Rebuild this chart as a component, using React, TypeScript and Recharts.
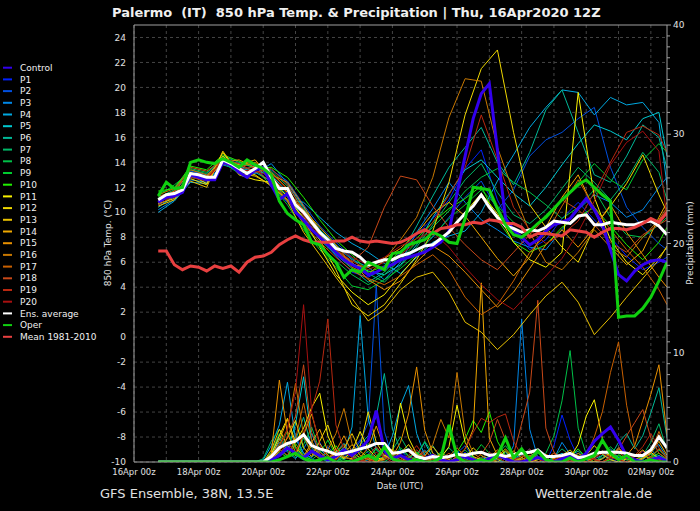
import React from 'react';
import { LineChart, Line, XAxis, YAxis, CartesianGrid, ReferenceLine } from 'recharts';

// time grid (hours after 16Apr 00z)
const HOURS_6H = Array.from({ length: 64 }, (_, i) => 18 + 6 * i);
const HOURS_12H = [...Array.from({ length: 32 }, (_, k) => 18 + 12 * k), 396];
const HOURS_PRECIP = HOURS_6H.slice(12);

const DATE_LABELS = ['16Apr 00z', '18Apr 00z', '20Apr 00z', '22Apr 00z', '24Apr 00z', '26Apr 00z', '28Apr 00z', '30Apr 00z', '02May 00z'];
const DAY_TICKS = [0, 24, 48, 72, 96, 120, 144, 168, 192, 216, 240, 264, 288, 312, 336, 360, 384];
const TEMP_TICKS = [-10, -8, -6, -4, -2, 0, 2, 4, 6, 8, 10, 12, 14, 16, 18, 20, 22, 24];
const PRECIP_TICKS = [0, 1, 2, 3, 4, 5, 6, 7, 8, 9, 10, 11, 12, 13, 14, 15, 16, 17, 18, 19, 20, 21, 22, 23, 24, 25, 26, 27, 28, 29, 30, 31, 32, 33, 34, 35, 36, 37, 38, 39, 40];

// 6-hourly main series
const ENS_T = [11.0, 11.4, 11.5, 11.8, 13.1, 13.0, 12.8, 12.8, 14.2, 13.9, 13.5, 13.1, 13.5, 14.0, 12.8, 11.9, 11.9, 10.6, 10.0, 9.2,
  8.4, 7.8, 7.1, 6.9, 6.8, 6.4, 5.8, 6.0, 6.2, 6.2, 6.5, 6.7, 7.0, 7.3, 7.4, 7.9, 8.4, 9.2, 9.9, 10.5, 11.4, 10.4, 9.6, 8.9, 8.7,
  8.4, 8.6, 8.5, 8.8, 9.3, 9.2, 9.1, 9.7, 9.8, 9.0, 9.0, 9.2, 9.1, 9.0, 9.0, 9.2, 9.3, 8.9, 8.2];
const MEAN_T = [6.9, 6.9, 5.8, 5.4, 5.7, 5.6, 5.3, 5.7, 5.5, 5.7, 5.2, 6.0, 6.4, 6.5, 6.8, 7.4, 7.8, 8.1, 7.8, 7.6, 7.6, 7.6,
  7.7, 7.7, 8.0, 7.7, 7.6, 7.7, 7.6, 7.5, 7.6, 7.9, 8.3, 8.6, 8.3, 8.7, 8.8, 9.0, 9.0, 9.2, 9.1, 9.4, 9.3, 9.1, 9.1,
  8.8, 8.0, 8.3, 8.3, 8.2, 8.1, 8.6, 8.5, 8.4, 8.0, 8.4, 8.7, 8.7, 8.6, 8.8, 9.1, 9.5, 9.2, 10.0];
const OPER_T = [11.3, 12.4, 11.9, 12.0, 14.0, 14.2, 14.0, 13.9, 14.3, 14.0, 13.6, 14.2, 13.8, 13.5, 13.0, 10.9, 9.9, 9.4, 9.0, 7.6, 7.4, 6.6,
  6.0, 4.8, 5.4, 5.2, 6.0, 5.7, 5.4, 6.7, 6.8, 7.4, 7.6, 7.8, 8.4, 8.1, 7.6, 7.5, 9.5, 12.0, 11.9, 11.8, 10.3, 9.0,
  8.2, 8.0, 8.5, 9.1, 9.6, 10.3, 11.0, 11.6, 12.2, 12.6, 12.0, 11.4, 10.9, 1.6, 1.7, 1.7, 2.3, 3.2, 4.5, 6.0];
const CONTROL_T = [10.8, 11.2, 11.3, 11.6, 13.0, 12.8, 12.6, 12.6, 14.0, 13.8, 13.2, 12.8, 13.4, 13.6, 12.2, 11.0, 11.5, 10.0, 9.4, 8.6,
  8.0, 7.4, 6.8, 6.2, 5.8, 5.5, 5.0, 5.2, 5.6, 5.8, 6.2, 6.4, 6.6, 6.8, 7.2, 7.6, 8.5, 11.5, 14.5, 17.5, 19.5, 20.3, 15.0, 9.5,
  8.6, 8.0, 7.4, 7.8, 8.5, 9.0, 9.2, 9.5, 10.3, 11.1, 10.2, 9.0, 7.0, 5.0, 4.5, 5.3, 5.8, 6.1, 6.2, 6.0];

const ENS_P = [0, 0, 0, 0, 0, 0, 0, 0, 0, 0, 0, 0, 0,
  0, 0.5, 1.3, 1.7, 1.9, 2.5, 1.5, 1.2, 1.0, 0.7, 0.8, 1.0, 1.2, 1.4, 1.7, 1.7, 0.8, 0.9, 1.1, 0.5, 0.3, 0.5, 0.4, 0.5, 0.7,
  0.6, 0.8, 0.9, 0.6, 0.7, 0.5, 0.7, 0.8, 0.9, 1.1, 0.5, 0.5, 0.6, 0.8, 0.4, 0.5, 0.8, 0.9, 0.9, 0.9, 0.8, 0.6, 0.6, 1.1, 2.3, 1.3];
const OPER_P = [0, 0, 0, 0, 0, 0, 0, 0, 0, 0, 0, 0, 0,
  0, 0, 0.2, 0.5, 0.8, 0.3, 0, 0.2, 0.4, 0, 0,
  0, 0.3, 0.6, 0.2, 1.4, 0.3, 0, 0, 0.2, 0, 0, 0.4,
  3.4, 0.5, 0, 0, 0.2, 0, 0.6, 2.2, 0.4, 1.2, 0.2, 1.0,
  0.2, 0, 0, 0.4, 0, 0.3, 0.6, 2.0, 0.8, 0.2, 0.6, 0,
  0, 0.2, 0, 0];
const CONTROL_P = [0, 0, 0, 0, 0, 0, 0, 0, 0, 0, 0, 0, 0,
  0, 0.2, 0.6, 1.3, 0.8, 0.4, 1.0, 0.6, 0.2, 0.5, 1.1,
  0.6, 1.2, 2.0, 4.7, 1.0, 0.3, 0.6, 0.2, 0, 0.3, 0.6, 0.2,
  0, 0.2, 0.5, 0.2, 0, 0.3, 0.7, 0.3, 0, 0, 0.2, 0.4,
  0.2, 0, 0.3, 0.6, 0.2, 0.8, 1.9, 2.6, 3.2, 2.0, 0.5, 0.2,
  0, 0.2, 0.4, 0.1];

// 12-hourly member temperatures
const P1_T = [10.6, 11.2, 12.9, 12.5, 14.0, 13.2, 13.8, 12.0, 10.8, 9.2, 8.0, 6.5, 5.2, 4.8, 5.5, 6.8, 8.2, 9.5, 11.0, 13.5, 15.0, 11.0, 8.5, 7.0, 7.8, 9.5, 10.8, 9.4, 8.0, 6.5, 5.4, 6.0, 6.4];
const P2_T = [10.9, 11.6, 13.3, 13.0, 14.3, 13.9, 13.6, 13.4, 12.5, 10.6, 8.9, 7.6, 6.4, 4.9, 5.6, 6.2, 6.9, 8.0, 9.6, 11.2, 12.5, 10.2, 11.8, 14.5, 15.8, 16.4, 17.5, 18.4, 13.6, 10.4, 8.8, 7.5, 7.0];
const P3_T = [10.2, 11.0, 12.6, 12.4, 13.8, 13.4, 13.1, 13.9, 12.3, 10.4, 8.6, 7.3, 6.2, 5.6, 4.6, 6.0, 8.4, 10.3, 12.4, 10.8, 9.4, 8.6, 7.7, 7.2, 7.0, 8.6, 10.2, 11.4, 10.8, 9.6, 10.2, 12.0, 12.8];
const P4_T = [10.0, 10.9, 12.4, 12.3, 13.9, 13.6, 13.2, 12.5, 11.0, 10.8, 9.6, 8.4, 7.5, 6.8, 5.9, 5.1, 6.4, 7.6, 8.1, 8.5, 10.0, 12.5, 14.6, 16.8, 18.4, 19.8, 19.6, 17.8, 19.2, 18.6, 18.8, 17.2, 12.2];
const P5_T = [10.4, 11.3, 12.8, 12.6, 14.1, 13.7, 13.3, 13.0, 11.6, 9.8, 8.2, 6.9, 5.9, 5.3, 5.0, 5.8, 7.4, 9.6, 11.5, 13.4, 14.2, 12.8, 11.5, 10.5, 12.0, 13.8, 15.5, 17.0, 16.5, 15.8, 17.5, 18.0, 14.5];
const P6_T = [10.8, 11.5, 13.0, 12.9, 14.4, 13.3, 13.7, 12.6, 11.4, 9.5, 7.8, 6.6, 5.5, 4.4, 5.2, 6.6, 8.9, 11.3, 13.6, 15.2, 16.8, 14.0, 12.2, 14.8, 18.2, 19.8, 16.4, 13.0, 12.4, 14.5, 17.0, 16.0, 13.5];
const P7_T = [11.2, 11.8, 13.4, 13.1, 14.5, 14.0, 13.8, 13.3, 12.1, 10.3, 8.6, 7.4, 6.3, 5.1, 4.4, 5.7, 7.2, 9.0, 10.8, 12.6, 13.9, 11.6, 9.8, 9.1, 10.2, 11.9, 13.6, 12.4, 11.0, 12.6, 14.8, 13.2, 11.0];
const P8_T = [11.5, 12.0, 13.5, 13.2, 14.2, 13.8, 13.9, 12.8, 11.2, 9.0, 7.4, 6.1, 5.0, 4.2, 5.0, 6.2, 7.6, 8.8, 10.1, 11.7, 12.8, 13.5, 12.4, 11.6, 10.6, 9.5, 10.4, 11.8, 9.6, 8.2, 8.0, 9.0, 9.6];
const P9_T = [11.3, 12.2, 13.2, 12.7, 14.0, 13.1, 13.4, 12.2, 10.6, 8.6, 7.0, 5.6, 4.1, 3.8, 4.6, 5.5, 6.6, 8.1, 9.5, 10.6, 11.8, 10.5, 9.2, 8.4, 9.8, 10.9, 12.4, 13.9, 12.6, 11.8, 14.2, 15.5, 14.8];
const P10_T = [11.7, 11.9, 13.7, 13.4, 14.6, 14.1, 13.5, 13.6, 12.8, 11.2, 9.4, 7.8, 6.6, 5.2, 5.7, 6.9, 7.9, 9.2, 10.3, 11.1, 12.1, 9.4, 7.6, 6.8, 7.4, 8.8, 9.6, 10.4, 8.9, 7.4, 6.2, 7.6, 8.8];
const P11_T = [11.0, 11.4, 13.0, 12.3, 14.8, 13.0, 12.6, 12.4, 11.3, 9.4, 7.2, 5.0, 3.6, 2.6, 3.4, 5.0, 6.5, 7.2, 8.4, 10.0, 11.5, 9.9, 7.6, 6.2, 5.6, 6.8, 19.6, 11.2, 7.8, 6.0, 5.0, 6.4, 7.2];
const P12_T = [10.7, 11.1, 12.7, 12.2, 14.5, 13.4, 13.0, 12.1, 11.0, 9.6, 7.8, 5.4, 2.6, 1.7, 2.6, 4.3, 6.2, 8.5, 12.4, 17.8, 21.5, 23.0, 16.4, 10.6, 8.8, 7.2, 6.0, 8.8, 10.5, 12.3, 14.6, 11.4, 10.0];
const P13_T = [10.5, 11.0, 12.5, 12.0, 14.9, 13.1, 12.9, 12.2, 10.9, 8.4, 6.6, 4.8, 3.1, 1.3, 2.2, 3.8, 4.8, 5.2, 3.6, 1.2, 0.4, -1.0, 0.2, 1.8, 3.3, 4.4, 2.8, 0.2, 1.6, 3.2, 4.7, 6.2, 7.3];
const P14_T = [10.9, 11.5, 12.9, 12.9, 14.3, 13.8, 14.2, 12.7, 11.6, 10.2, 8.8, 7.4, 5.8, 5.6, 6.3, 7.1, 8.3, 9.9, 10.8, 9.7, 8.0, 6.3, 4.9, 6.4, 8.8, 11.2, 13.0, 10.2, 7.2, 5.8, 6.9, 9.6, 10.8];
const P15_T = [11.1, 11.7, 13.2, 12.6, 14.0, 14.2, 13.6, 13.0, 12.4, 10.5, 8.5, 7.0, 6.0, 4.6, 3.8, 4.5, 6.0, 7.3, 6.5, 5.2, 3.8, 2.4, 3.6, 5.5, 7.4, 8.6, 7.2, 8.8, 10.6, 8.4, 6.6, 4.8, 4.0];
const P16_T = [11.4, 11.9, 13.4, 13.0, 13.9, 13.6, 14.0, 13.2, 11.9, 9.9, 8.2, 6.7, 5.6, 5.0, 6.2, 7.8, 9.6, 12.8, 17.6, 20.7, 20.5, 15.2, 11.6, 8.4, 6.0, 5.4, 6.8, 8.6, 7.2, 6.4, 8.0, 9.4, 10.4];
const P17_T = [10.6, 11.3, 13.1, 12.8, 14.1, 13.3, 13.4, 12.4, 11.0, 9.1, 7.6, 6.4, 5.3, 4.7, 4.2, 4.9, 5.8, 6.6, 5.4, 3.2, 1.8, 2.6, 4.5, 6.8, 8.2, 10.5, 12.6, 10.4, 8.6, 7.0, 5.6, 3.8, 2.6];
const P18_T = [11.3, 11.6, 13.6, 13.3, 14.2, 13.9, 13.2, 13.5, 12.2, 10.1, 8.1, 6.8, 6.0, 7.2, 10.4, 12.9, 12.6, 10.5, 8.8, 7.4, 6.2, 5.4, 6.8, 8.2, 9.6, 11.0, 10.2, 9.0, 7.6, 6.8, 8.2, 9.0, 9.4];
const P19_T = [10.8, 11.4, 12.8, 12.5, 14.4, 13.5, 13.6, 13.1, 11.8, 9.7, 8.0, 7.0, 6.1, 5.4, 6.0, 6.6, 7.6, 9.2, 11.4, 13.6, 17.8, 14.2, 10.4, 8.6, 7.5, 8.2, 9.3, 11.6, 14.0, 16.4, 16.9, 16.2, 14.8];
const P20_T = [11.0, 11.2, 13.0, 12.7, 14.1, 13.4, 13.3, 12.9, 11.5, 9.8, 8.3, 7.2, 6.4, 5.8, 6.4, 7.3, 7.9, 8.4, 7.2, 5.6, 4.2, 3.0, 2.2, 3.6, 4.9, 6.3, 8.4, 10.9, 13.8, 15.6, 16.5, 14.9, 9.4];

// 6-hourly member precipitation from 19Apr 18z
const P1_P = [0, 0, 0.3, 0.8, 1.5, 0.6, 0.2, 0.9, 1.8, 0.4, 0, 0.5, 1.2, 2.0, 0.8, 0.3, 0, 0.6, 1.1, 0.2, 0, 0, 0.4, 0, 0, 0.3, 0.9, 0.2, 0, 0, 0.5, 0.2, 0, 0, 0.4, 0, 0, 1.5, 4.3, 2.0, 0.4, 0, 0, 0.6, 0.3, 0, 0, 0.5, 1.0, 0.4, 0, 0];
const P2_P = [0, 0, 0.2, 0.5, 1.1, 2.4, 0.8, 0.3, 0, 1.4, 0.6, 0.2, 0.8, 1.9, 3.6, 16.2, 2.8, 0.4, 0, 0.3, 0.9, 0.2, 0, 0, 0.2, 0.8, 1.5, 0.4, 0, 0, 0.3, 0, 0, 0.6, 1.2, 0.3, 0, 0, 0.2, 0.9, 0.3, 0, 0.4, 1.0, 0.2, 0, 0, 0, 0.3, 0.8, 0.2, 0];
const P3_P = [0, 0, 0.6, 1.8, 0.9, 0.3, 1.2, 2.6, 0.7, 0, 0.3, 1.0, 0.4, 0, 0.2, 1.3, 0.6, 0.2, 0, 0, 0.5, 1.1, 0.3, 0, 0, 0.4, 0.2, 0, 0.3, 0.8, 0.2, 0, 1.5, 13.1, 3.0, 0.4, 0, 0.3, 1.8, 0.7, 0.2, 0, 0, 0.3, 0.9, 0.4, 0, 0, 0.5, 1.2, 0.3, 0.2];
const P4_P = [0, 0.2, 1.5, 3.4, 7.3, 2.1, 0.8, 0.4, 1.2, 0.5, 0, 0.8, 3.2, 13.4, 4.0, 1.1, 0.5, 2.4, 5.2, 7.0, 2.6, 0.6, 0.2, 0, 0.4, 1.0, 0.3, 0, 0.2, 0.5, 0, 0, 0.3, 0.7, 0.2, 0, 0, 0.4, 0.8, 0.2, 0, 0, 0.3, 0.6, 1.2, 0.4, 0, 0, 0.2, 0.9, 1.6, 0.4];
const P5_P = [0, 0, 0.8, 2.2, 1.0, 3.5, 7.8, 1.9, 0.6, 0.2, 0.9, 1.7, 0.5, 0.2, 0, 0.4, 1.3, 0.5, 0.2, 0, 0.6, 1.8, 0.4, 0, 0, 0.2, 0.7, 0.3, 0, 0, 0.4, 0.9, 0.2, 0, 0.5, 1.1, 0.4, 0, 0, 0.3, 0.8, 0.2, 0, 0, 0.4, 1.3, 0.5, 0, 0, 0.3, 0.6, 0.2];
const P6_P = [0, 0, 0.4, 1.2, 0.5, 2.0, 4.1, 1.3, 0.4, 0, 0.6, 1.4, 0.7, 1.6, 2.4, 4.2, 8.1, 3.0, 1.1, 0.5, 0.2, 0.8, 1.5, 0.3, 0, 0.2, 0.8, 0.4, 0, 0.3, 0.6, 0.2, 0, 0, 0.4, 0.9, 0.3, 0, 0.2, 0.6, 1.0, 0.4, 0, 0, 0.5, 1.8, 2.6, 1.2, 2.4, 4.5, 6.8, 2.2];
const P7_P = [0, 0.3, 1.9, 3.0, 1.4, 0.6, 2.2, 0.8, 0.3, 1.0, 0.4, 0, 0.2, 0.9, 1.7, 0.6, 0.3, 1.1, 2.3, 1.0, 0.4, 0, 0.2, 0.5, 1.3, 0.6, 0.2, 0, 0.4, 0.8, 0.3, 0, 0.2, 0.6, 0.3, 0, 0, 0.5, 1.2, 0.6, 0.3, 0, 0, 0.4, 0.9, 0.5, 0.2, 0, 0.6, 1.8, 3.5, 1.0];
const P8_P = [0, 0, 0.9, 2.6, 1.1, 0.4, 1.6, 3.2, 1.0, 0.3, 0, 0.4, 0.9, 0.3, 0, 0.5, 1.4, 0.7, 0.2, 0, 0.6, 1.9, 0.8, 0.3, 0, 0.5, 1.1, 0.4, 0, 0.2, 0.7, 1.5, 0.5, 0, 0, 0.3, 0.8, 2.4, 5.6, 10.2, 3.1, 0.7, 0.2, 0, 0.4, 0.9, 0.3, 0, 0, 0.5, 1.1, 0.4];
const P9_P = [0, 0, 0.5, 1.4, 2.8, 1.2, 0.5, 0.2, 0.8, 2.0, 0.6, 0.2, 0, 0.4, 1.0, 0.3, 0, 0.5, 1.3, 0.6, 0.2, 0, 0.3, 0.9, 0.4, 0, 0.2, 0.6, 1.6, 0.8, 0.3, 0, 0, 0.4, 1.1, 0.5, 0.2, 0, 0.3, 0.8, 0.4, 0, 0, 0.6, 1.4, 0.7, 0.2, 0, 0.3, 0.7, 0.4, 0.2];
const P10_P = [0, 0, 0.3, 0.9, 0.4, 1.7, 0.6, 0.2, 0, 0.7, 1.5, 0.5, 0.2, 0, 0.3, 1.2, 0.5, 0.2, 0, 0.4, 0.9, 0.3, 0, 0, 0.3, 0.9, 2.1, 3.8, 2.7, 4.6, 1.9, 0.6, 0.2, 0, 0.3, 0.8, 0.4, 0, 0, 0.5, 1.2, 0.4, 0, 0, 0.2, 0.6, 0.3, 0, 0, 0.4, 0.8, 0.2];
const P11_P = [0, 0, 0.7, 2.4, 4.0, 1.8, 3.1, 5.0, 6.3, 2.4, 0.8, 0.3, 1.0, 2.8, 1.2, 0.4, 0.2, 0.9, 5.4, 2.2, 0.7, 0.3, 0, 0.4, 1.4, 5.2, 1.8, 0.5, 0.2, 0, 0.4, 1.0, 0.3, 0, 0, 0.2, 0.6, 0.3, 0, 0.4, 1.6, 4.2, 5.7, 2.1, 0.6, 0.2, 0, 0, 0.4, 0.9, 0.3, 0];
const P12_P = [0, 0, 0.2, 1.0, 2.2, 3.8, 1.3, 0.5, 1.9, 3.4, 1.1, 0.4, 0.3, 1.4, 4.6, 1.8, 0.6, 0.2, 0.8, 1.6, 0.5, 0, 0.3, 0.7, 0.2, 0, 0.4, 1.3, 0.6, 0.2, 0, 0.5, 1.0, 0.4, 0, 0, 0.3, 0.8, 0.3, 0, 0.2, 0.6, 1.5, 0.7, 0.2, 0, 0.3, 0.5, 1.1, 0.4, 0.2, 0];
const P13_P = [0, 0, 1.1, 3.0, 1.5, 0.6, 2.5, 4.4, 1.7, 0.6, 0.2, 1.3, 2.6, 1.0, 0.4, 0, 0.5, 1.2, 0.4, 0, 0.2, 0.6, 1.4, 0.5, 0, 0.3, 0.8, 0.2, 0, 0, 0.5, 1.2, 0.4, 0.2, 0.6, 0.3, 0, 0.2, 0.6, 1.1, 0.4, 0, 0, 0.3, 0.8, 0.3, 0, 0.2, 0.6, 0.3, 0, 0.2];
const P14_P = [0, 0, 0.6, 2.0, 3.9, 1.4, 0.5, 1.8, 3.0, 1.0, 0.3, 0.8, 1.6, 0.6, 0.2, 0, 0.4, 1.0, 0.5, 0.2, 0, 0.3, 0.7, 0.2, 0, 0.5, 1.2, 3.0, 16.4, 2.2, 0.6, 0.2, 0, 0.4, 0.9, 0.3, 0, 0, 0.3, 0.7, 0.2, 0, 0.4, 1.0, 0.5, 0.2, 0, 0, 0.3, 0.8, 1.9, 0.6];
const P15_P = [0, 0, 0.8, 7.5, 2.6, 0.9, 0.4, 1.5, 0.6, 0.2, 1.0, 2.4, 0.9, 0.4, 1.3, 3.3, 1.2, 0.5, 1.8, 4.4, 8.7, 2.9, 0.8, 0.3, 0, 0.2, 0.6, 0.3, 0, 0.4, 1.1, 0.5, 0.2, 0, 0, 0.3, 0.7, 0.3, 0, 0.2, 0.6, 0.3, 0, 0, 0.4, 1.2, 0.6, 1.5, 3.8, 6.2, 8.9, 2.5];
const P16_P = [0, 0, 0.5, 1.6, 3.0, 7.2, 2.4, 0.8, 0.3, 1.1, 2.6, 4.9, 1.7, 0.6, 0.3, 0, 0.2, 0.8, 0.4, 0.2, 0, 0.5, 1.6, 3.9, 2.2, 8.2, 2.6, 0.8, 0.3, 0, 0.2, 0.6, 0.3, 0, 0.4, 0.9, 0.4, 0, 0, 0.3, 0.8, 0.4, 0.2, 0, 0.5, 1.3, 0.6, 0.2, 0, 0.5, 1.2, 0.4];
const P17_P = [0, 0, 0.4, 1.2, 0.6, 2.1, 5.4, 1.9, 0.7, 0.2, 0.8, 1.6, 0.6, 0.2, 0, 0.5, 1.3, 0.6, 0.2, 0, 0.4, 1.0, 0.3, 0, 0.5, 1.3, 0.5, 0.2, 0, 0.3, 0.9, 0.4, 0, 0.2, 0.6, 0.3, 0, 0.2, 0.5, 0.2, 0, 0.6, 2.3, 4.6, 8.2, 11.0, 5.2, 1.4, 0.5, 0.9, 2.8, 1.0];
const P18_P = [0, 0, 0.3, 1.0, 2.3, 4.2, 8.9, 2.7, 0.9, 0.3, 1.2, 0.5, 0.2, 0, 0.6, 1.4, 0.5, 0.2, 0, 0.4, 1.1, 0.4, 0, 0.3, 0.8, 0.3, 0, 0.2, 0.7, 1.8, 3.9, 2.0, 0.7, 3.5, 6.4, 14.8, 3.1, 0.9, 0.3, 0, 0.2, 0.6, 0.3, 0, 0.4, 1.1, 2.4, 3.6, 4.8, 2.2, 0.8, 0.3];
const P19_P = [0, 0, 0.2, 0.7, 1.8, 0.8, 2.6, 4.8, 7.4, 13.1, 3.4, 1.1, 0.4, 0, 0.3, 0.9, 0.4, 0, 0.2, 0.6, 1.5, 0.5, 0.2, 0, 0, 0.4, 1.2, 2.7, 4.0, 3.6, 4.1, 4.4, 1.9, 0.6, 0.2, 0, 0.3, 0.8, 0.3, 0, 0.2, 0.5, 0.2, 0, 0.4, 0.9, 0.3, 0.6, 1.4, 2.6, 1.3, 0.4];
const P20_P = [0, 0, 0.4, 1.3, 3.0, 6.5, 14.4, 4.6, 1.5, 0.5, 0.2, 0.9, 0.4, 0.1, 0, 0.3, 0.8, 0.3, 0, 0.2, 0.6, 0.2, 0, 0, 0.3, 0.7, 0.2, 0, 0.3, 0.9, 0.4, 0, 0.2, 0.5, 1.2, 0.4, 0, 0.2, 0.6, 0.3, 0, 0, 0.3, 0.8, 0.4, 0.2, 0, 0.5, 1.0, 0.4, 0.2, 0];

const MEMBER_NAMES = ['P1', 'P2', 'P3', 'P4', 'P5', 'P6', 'P7', 'P8', 'P9', 'P10', 'P11', 'P12', 'P13', 'P14', 'P15', 'P16', 'P17', 'P18', 'P19', 'P20'];
const MEMBER_COLORS = ['#0022ff', '#0050e0', '#0088e8', '#00a8e0', '#00c8d0', '#00b898', '#00b868', '#00c048', '#00cc30', '#20f000',
  '#f8f000', '#f0d800', '#e8c000', '#f0a800', '#e89000', '#c87800', '#c86000', '#c84818', '#b82810', '#a81010'];
const MEMBER_TEMPS = [P1_T, P2_T, P3_T, P4_T, P5_T, P6_T, P7_T, P8_T, P9_T, P10_T, P11_T, P12_T, P13_T, P14_T, P15_T, P16_T, P17_T, P18_T, P19_T, P20_T];
const MEMBER_PRECIP = [P1_P, P2_P, P3_P, P4_P, P5_P, P6_P, P7_P, P8_P, P9_P, P10_P, P11_P, P12_P, P13_P, P14_P, P15_P, P16_P, P17_P, P18_P, P19_P, P20_P];

const CONTROL_COLOR = '#3300ee';
const ENS_COLOR = '#ffffff';
const OPER_COLOR = '#10d010';
const MEAN_COLOR = '#e84040';

const LEGEND_ITEMS = [
  { name: 'Control', color: CONTROL_COLOR },
  ...MEMBER_NAMES.map((n, i) => ({ name: n, color: MEMBER_COLORS[i] })),
  { name: 'Ens. average', color: ENS_COLOR },
  { name: 'Oper', color: OPER_COLOR },
  { name: 'Mean 1981-2010', color: MEAN_COLOR },
];

const pts = (hours: number[], vals: number[]) => vals.map((v, i) => ({ h: hours[i], v }));

const FONT = '"DejaVu Sans", sans-serif';
const TXT = '#e0e0e0';
const AXIS = '#a0a0a0';

const dateLabel = (h: number) => (h % 48 === 0 ? DATE_LABELS[h / 48] : '');

const RightTick = (props: any) => {
  const { x, y, payload } = props;
  const v = payload.value;
  const major = v % 10 === 0;
  return (
    <g>
      <line x1={x} x2={x + (major ? 4 : 3)} y1={y} y2={y} stroke={AXIS} strokeWidth={1} />
      {major && (
        <text x={x + 6} y={y} dy="0.35em" fill={TXT} fontSize={9} fontFamily={FONT} textAnchor="start">{v}</text>
      )}
    </g>
  );
};

export default function App() {
  const lineProps = { dot: false, isAnimationActive: false, type: 'linear' as const, activeDot: false as any };
  return (
    <div style={{ position: 'fixed', left: 0, top: 0, width: 700, height: 511, background: '#000', overflow: 'hidden' }}>
      <div style={{ position: 'absolute', left: 0, top: 0 }}>
        <LineChart width={700} height={511} margin={{ top: 25, right: 0, bottom: 29, left: 104 }}>
          <CartesianGrid yAxisId="temp" stroke="#444" strokeDasharray="3 3" horizontalValues={TEMP_TICKS} verticalValues={DAY_TICKS} />
          <XAxis dataKey="h" type="number" domain={[0, 396]} ticks={DAY_TICKS} interval={0} tickFormatter={dateLabel}
            allowDataOverflow height={20} tickLine={false} tickSize={3} tickMargin={4} stroke={AXIS}
            tick={{ fill: TXT, fontSize: 8.5, fontFamily: FONT }} />
          <YAxis yAxisId="temp" orientation="left" domain={[-10, 25]} ticks={TEMP_TICKS} interval={0} width={30}
            allowDataOverflow tickLine={false} tickSize={6} tickMargin={2} stroke={AXIS}
            tick={{ fill: TXT, fontSize: 9, fontFamily: FONT }} />
          <YAxis yAxisId="precip" orientation="right" domain={[0, 40]} ticks={PRECIP_TICKS} interval={0} width={33}
            allowDataOverflow tickLine={false} tickSize={0} tickMargin={0} stroke={AXIS} tick={<RightTick />} />
          <ReferenceLine yAxisId="temp" y={25} stroke={AXIS} strokeWidth={1} ifOverflow="extendDomain" />

          {MEMBER_PRECIP.map((vals, i) => (
            <Line key={'mp' + i} yAxisId="precip" data={pts(HOURS_PRECIP, vals)} dataKey="v" stroke={MEMBER_COLORS[i]} strokeWidth={1} {...lineProps} />
          ))}
          {MEMBER_TEMPS.map((vals, i) => (
            <Line key={'mt' + i} yAxisId="temp" data={pts(HOURS_12H, vals)} dataKey="v" stroke={MEMBER_COLORS[i]} strokeWidth={1} {...lineProps} />
          ))}
          <Line yAxisId="precip" data={pts(HOURS_6H, CONTROL_P)} dataKey="v" stroke={CONTROL_COLOR} strokeWidth={3} {...lineProps} />
          <Line yAxisId="temp" data={pts(HOURS_6H, CONTROL_T)} dataKey="v" stroke={CONTROL_COLOR} strokeWidth={3} {...lineProps} />
          <Line yAxisId="precip" data={pts(HOURS_6H, ENS_P)} dataKey="v" stroke={ENS_COLOR} strokeWidth={3} {...lineProps} />
          <Line yAxisId="temp" data={pts(HOURS_6H, ENS_T)} dataKey="v" stroke={ENS_COLOR} strokeWidth={3} {...lineProps} />
          <Line yAxisId="temp" data={pts(HOURS_6H, MEAN_T)} dataKey="v" stroke={MEAN_COLOR} strokeWidth={3} {...lineProps} />
          <Line yAxisId="precip" data={pts(HOURS_6H, OPER_P)} dataKey="v" stroke={OPER_COLOR} strokeWidth={3} {...lineProps} />
          <Line yAxisId="temp" data={pts(HOURS_6H, OPER_T)} dataKey="v" stroke={OPER_COLOR} strokeWidth={3} {...lineProps} />
        </LineChart>
      </div>
      <svg width={700} height={511} style={{ position: 'absolute', left: 0, top: 0, pointerEvents: 'none' }}>
        <text x={112} y={17} fill="#f0f0f0" fontSize={13} fontWeight="bold" fontFamily={FONT} xmlSpace="preserve" style={{ whiteSpace: 'pre' }}>
          {'Palermo  (IT)  850 hPa Temp. & Precipitation | Thu, 16Apr2020 12Z'}
        </text>
        {LEGEND_ITEMS.map((it, i) => (
          <g key={it.name}>
            <line x1={3} x2={12} y1={67.7 + i * 11.7} y2={67.7 + i * 11.7} stroke={it.color} strokeWidth={2} />
            <text x={20} y={67.7 + i * 11.7} dy="0.35em" fill="#f0f0f0" fontSize={9} fontFamily={FONT}>{it.name}</text>
          </g>
        ))}
        <text x={108} y={243} transform="rotate(-90 108 243)" textAnchor="middle" dy="0.35em" fill={TXT} fontSize={9} fontFamily={FONT}>850 hPa Temp. (°C)</text>
        <text x={690} y={243} transform="rotate(-90 690 243)" textAnchor="middle" dy="0.35em" fill={TXT} fontSize={9} fontFamily={FONT}>Precipitation (mm)</text>
        <text x={400} y={486} textAnchor="middle" dy="0.35em" fill={TXT} fontSize={8.5} fontFamily={FONT}>Date (UTC)</text>
        <text x={100} y={498} fill={TXT} fontSize={13} fontFamily={FONT}>GFS Ensemble, 38N, 13.5E</text>
        <text x={535} y={498} fill={TXT} fontSize={13} fontFamily={FONT}>Wetterzentrale.de</text>
      </svg>
    </div>
  );
}
